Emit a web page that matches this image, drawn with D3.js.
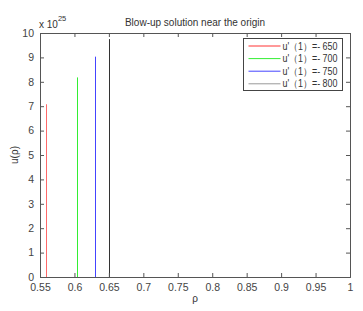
<!DOCTYPE html>
<html>
<head>
<meta charset="utf-8">
<script src="https://cdn.jsdelivr.net/npm/d3@7"></script>
<style>
  body { margin: 0; background: #fff; }
  text { font-family: "Liberation Sans", Arial, sans-serif; fill: #333; }
</style>
</head>
<body>
<script>
// valores (u en unidades de 1e25)
var series = ["u'（1）=- 650", "u'（1）=- 700", "u'（1）=- 750", "u'（1）=- 800"];
var rhoBlow = [0.5583, 0.6042, 0.6303, 0.6506];
var uMax = [7.08, 8.18, 9.03, 9.75];
var xTicks = [0.55, 0.6, 0.65, 0.7, 0.75, 0.8, 0.85, 0.9, 0.95, 1];
var yTicks = [0, 1, 2, 3, 4, 5, 6, 7, 8, 9, 10];
var colors = ["#ff6a6a", "#33ee33", "#4444ff", "#333333"];
var legendColors = ["#ff3333", "#33ee33", "#4444ff", "#999999"];

var W = 363, H = 311;
var m = { left: 40, top: 33, right: 13, bottom: 34 };
var iw = W - m.left - m.right, ih = H - m.top - m.bottom;

var svg = d3.select("body").append("svg")
  .attr("width", W).attr("height", H);

var x = d3.scaleLinear().domain([0.55, 1]).range([0, iw]);
var y = d3.scaleLinear().domain([0, 10]).range([ih, 0]);

var g = svg.append("g").attr("transform", "translate(" + m.left + "," + m.top + ")");

// lineas verticales de cada solucion
g.selectAll("line.sol")
  .data(rhoBlow)
  .enter()
  .append("line")
  .attr("class", "sol")
  .attr("x1", function(d) { return Math.round(x(d)) + 0.5; })
  .attr("x2", function(d) { return Math.round(x(d)) + 0.5; })
  .attr("y1", y(0))
  .attr("y2", function(d, i) { return y(uMax[i]); })
  .style("stroke", function(d, i) { return colors[i]; })
  .style("stroke-width", 1);

// ejes estilo matlab con ticks hacia adentro
function fmt(d) { return String(d); }
var axB = g.append("g").attr("transform", "translate(0," + ih + ")")
  .call(d3.axisBottom(x).tickValues(xTicks).tickSize(-4).tickPadding(6).tickFormat(fmt));
var axT = g.append("g")
  .call(d3.axisTop(x).tickValues(xTicks).tickSize(-4).tickFormat(""));
var axL = g.append("g")
  .call(d3.axisLeft(y).tickValues(yTicks).tickSize(-4).tickPadding(6).tickFormat(fmt));
var axR = g.append("g").attr("transform", "translate(" + iw + ",0)")
  .call(d3.axisRight(y).tickValues(yTicks).tickSize(-4).tickFormat(""));

[axB, axT, axL, axR].forEach(function(a) {
  a.selectAll("path.domain").style("stroke", "#555");
  a.selectAll(".tick line").style("stroke", "#555");
  a.selectAll("text").style("font-size", "10.5px").style("fill", "#444")
    .style("font-family", "'Liberation Sans', Arial, sans-serif");
});
axB.selectAll("text").attr("dy", "0.72em");

// titulo y etiquetas
svg.append("text")
  .attr("x", m.left + iw / 2).attr("y", 26)
  .attr("text-anchor", "middle")
  .style("font-size", "10px")
  .text("Blow-up solution near the origin");

svg.append("text")
  .attr("x", m.left + iw / 2).attr("y", 302)
  .attr("text-anchor", "middle")
  .style("font-size", "10px")
  .text("ρ");

svg.append("text")
  .attr("transform", "translate(18," + (m.top + ih / 2) + ") rotate(-90)")
  .attr("text-anchor", "middle")
  .style("font-size", "10px")
  .text("u(ρ)");

var ex = svg.append("text")
  .attr("x", 39).attr("y", 28)
  .style("font-size", "10px");
ex.append("tspan").text("x 10");
ex.append("tspan").attr("dy", -7).style("font-size", "7.5px").text("25");

// leyenda
var lg = svg.append("g").attr("transform", "translate(243.5,38.5)");
lg.append("rect")
  .attr("width", 99).attr("height", 52)
  .style("fill", "#fff").style("stroke", "#444").style("stroke-width", 1);
var items = lg.selectAll("g.item")
  .data(series)
  .enter()
  .append("g")
  .attr("class", "item")
  .attr("transform", function(d, i) { return "translate(0," + (7.5 + i * 12.6) + ")"; });
items.append("line")
  .attr("x1", 5).attr("x2", 37)
  .style("stroke", function(d, i) { return legendColors[i]; });
items.append("text")
  .attr("x", 39).attr("y", 3.5)
  .attr("textLength", 55)
  .attr("lengthAdjust", "spacingAndGlyphs")
  .style("font-size", "10px")
  .text(function(d) { return d; });
</script>
</body>
</html>
